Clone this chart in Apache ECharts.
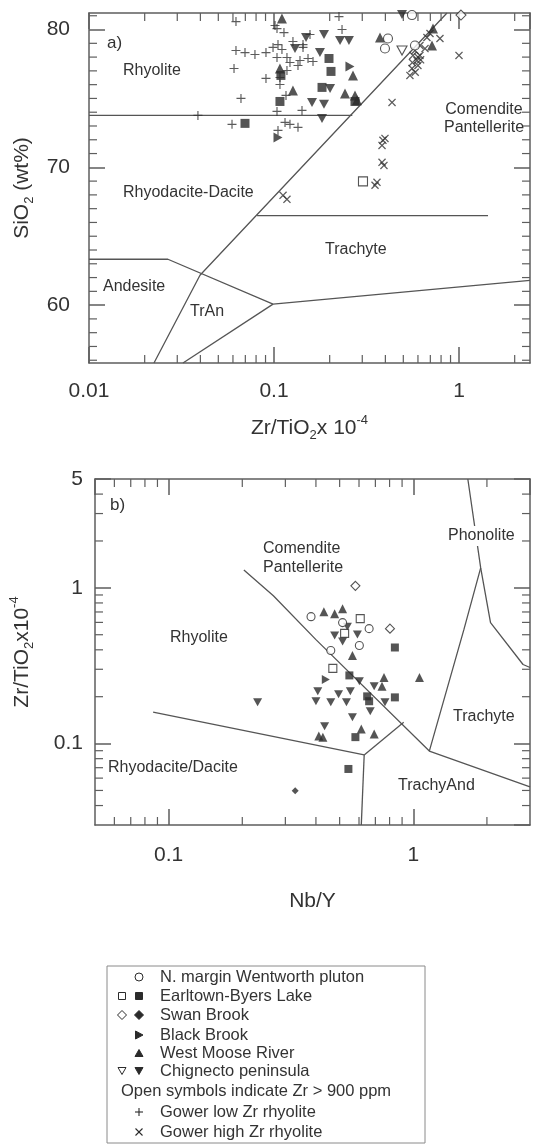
<!DOCTYPE html>
<html>
<head>
<meta charset="utf-8">
<title>Zr/TiO2 discrimination diagrams</title>
<script src="https://cdn.jsdelivr.net/npm/echarts@6/dist/echarts.min.js"></script>
<style>
  html, body { margin: 0; padding: 0; background: #fff; }
  #chart { width: 534px; height: 1147px; }
</style>
</head>
<body>
<div id="chart"></div>
<script>
// ---------- panel a) SiO2 (wt%) against Zr/TiO2 x 1e-4 ----------
const aGowerLowZr = [
  [0.0623, 80.58], [0.1013, 80.29], [0.1038, 80.07], [0.1132, 79.78], [0.1266, 79.13],
  [0.1435, 78.91], [0.2245, 80.94], [0.2332, 80.0], [0.0623, 78.48], [0.0697, 78.33],
  [0.0789, 78.19], [0.0905, 78.33], [0.0988, 78.7], [0.1051, 78.91], [0.1104, 78.55],
  [0.1038, 77.97], [0.1175, 77.97], [0.122, 77.61], [0.1348, 77.39], [0.1527, 77.9],
  [0.1625, 77.68], [0.0608, 77.17], [0.0905, 76.45], [0.1077, 76.52], [0.1077, 76.01],
  [0.1175, 77.03], [0.0663, 75.0], [0.1161, 75.22], [0.1038, 74.06], [0.1417, 74.13],
  [0.0388, 73.77], [0.0593, 73.12], [0.1147, 73.26], [0.122, 73.12], [0.1348, 72.9],
  [0.1051, 72.68], [0.1382, 77.75], [0.1435, 78.7], [0.1565, 79.64]
];
const aGowerHighZr = [
  [0.789, 79.35], [0.697, 79.71], [0.671, 79.42], [0.615, 78.84], [0.564, 78.12],
  [0.593, 77.75], [0.6, 77.39], [0.557, 77.17], [0.543, 76.67], [0.578, 78.48],
  [0.615, 78.12], [0.655, 78.62], [0.56, 77.6], [0.6, 78.0], [0.58, 76.9], [0.62, 77.8],
  [1.0, 78.12], [0.4345, 74.71], [0.398, 72.1], [0.388, 71.96], [0.3836, 71.59],
  [0.3836, 70.36], [0.393, 70.14], [0.3603, 68.91], [0.3516, 68.7], [0.1119, 67.97],
  [0.1175, 67.68]
];
const aWentworthOpen = [[0.557, 81.05], [0.4132, 79.35], [0.398, 78.62], [0.578, 78.84]];
const aEarltownOpen = [[0.3027, 68.98]];
const aSwanBrookOpen = [[1.025, 81.05]];
const aChignectoOpen = [[0.492, 78.48]];
const aEarltown = [[0.1983, 77.9], [0.2033, 76.96], [0.1818, 75.8], [0.1077, 74.78], [0.109, 76.67], [0.0697, 73.19], [0.274, 74.78]];
const aBlackBrook = [[0.2574, 77.32], [0.1051, 72.17]];
const aWestMoose = [[0.1104, 80.8], [0.1077, 77.17], [0.1266, 75.58], [0.2673, 76.67], [0.242, 75.36], [0.274, 75.22], [0.281, 74.86], [0.374, 79.42], [0.7145, 78.84], [0.7236, 80.07]];
const aChignecto = [[0.149, 79.42], [0.1863, 79.64], [0.2275, 79.2], [0.2542, 79.2], [0.1299, 78.62], [0.1772, 78.33], [0.2009, 75.72], [0.1605, 74.71], [0.1863, 74.57], [0.1818, 73.55], [0.492, 81.09]];

// field boundaries, panel a)
const aRhyoliteBase = [[0.01, 73.77], [0.265, 73.77]];
const aComPantBoundary = [[0.02245, 55.8], [0.0398, 62.17], [0.861, 81.2]];
const aTrachyteTop = [[0.081, 66.5], [1.435, 66.5]];
const aAndesiteTop = [[0.01, 63.33], [0.0267, 63.33], [0.0988, 60.07], [2.42, 61.8]];
const aTrAnBase = [[0.0322, 55.8], [0.0988, 60.07]];

// ---------- panel b) Zr/TiO2 x 1e-4 against Nb/Y ----------
const bWentworthOpen = [[0.382, 0.653], [0.514, 0.598], [0.66, 0.547], [0.602, 0.426], [0.46, 0.396]];
const bEarltownOpen = [[0.607, 0.634], [0.469, 0.304], [0.524, 0.51]];
const bSwanBrookOpen = [[0.58, 1.03], [0.803, 0.547]];
const bEarltown = [[0.841, 0.414], [0.548, 0.274], [0.648, 0.201], [0.841, 0.198], [0.66, 0.187], [0.58, 0.11], [0.543, 0.0687]];
const bSwanBrook = [[0.329, 0.0497]];
const bBlackBrook = [[0.439, 0.258]];
const bWestMoose = [[0.431, 0.703], [0.477, 0.682], [0.514, 0.734], [0.564, 0.368], [1.06, 0.266], [0.759, 0.266], [0.745, 0.233], [0.411, 0.1117], [0.427, 0.11], [0.613, 0.124], [0.692, 0.115]];
const bChignecto = [[0.538, 0.563], [0.477, 0.494], [0.591, 0.501], [0.514, 0.452], [0.602, 0.251], [0.692, 0.233], [0.407, 0.2165], [0.553, 0.2165], [0.495, 0.207], [0.4, 0.187], [0.46, 0.184], [0.533, 0.184], [0.766, 0.184], [0.667, 0.161], [0.564, 0.1477], [0.434, 0.129], [0.231, 0.184]];

// field boundaries, panel b)
const bComPantBoundary = [[0.203, 1.303], [0.268, 0.889], [0.4, 0.465], [1.163, 0.0895], [3.0, 0.0527]];
const bRhyodaciteTop = [[0.0864, 0.159], [0.63, 0.0845]];
const bTrachyAndTop = [[0.63, 0.0845], [0.914, 0.137]];
const bTrachyAndLeft = [[0.63, 0.0845], [0.613, 0.03]];
const bTrachyteLeft = [[1.163, 0.0895], [1.61, 0.539], [1.886, 1.342]];
const bPhonoliteLine = [[1.671, 5], [1.886, 1.342], [2.069, 0.5975], [2.81, 0.322], [3.0, 0.308]];

// ---------- axes ----------
const aXRange = [0.01, 2.42];
const aYRange = [55.8, 81.2];
const aYMajor = [60, 70, 80];
const aXMinor = [0.02, 0.03, 0.04, 0.05, 0.06, 0.07, 0.08, 0.09, 0.2, 0.3, 0.4, 0.5, 0.6, 0.7, 0.8, 0.9, 2];
const aYMinor = [56, 57, 58, 59, 61, 62, 63, 64, 65, 66, 67, 68, 69, 71, 72, 73, 74, 75, 76, 77, 78, 79, 81];
const bXRange = [0.05, 3];
const bYRange = [0.03, 5];
const bXMinor = [0.06, 0.07, 0.08, 0.09, 0.2, 0.3, 0.4, 0.5, 0.6, 0.7, 0.8, 0.9, 2];
const bYMinor = [0.04, 0.05, 0.06, 0.07, 0.08, 0.09, 0.2, 0.3, 0.4, 0.5, 0.6, 0.7, 0.8, 0.9, 2, 3, 4];

// ---------- text ----------
const panelALabels = ['a)', 'Rhyolite', 'Comendite', 'Pantellerite', 'Rhyodacite-Dacite', 'Trachyte', 'Andesite', 'TrAn'];
const panelBLabels = ['b)', 'Comendite', 'Pantellerite', 'Phonolite', 'Rhyolite', 'Trachyte', 'Rhyodacite/Dacite', 'TrachyAnd'];
const legendLabels = ['N. margin Wentworth pluton', 'Earltown-Byers Lake', 'Swan Brook', 'Black Brook', 'West Moose River', 'Chignecto peninsula', 'Open symbols indicate Zr > 900 ppm', 'Gower low Zr rhyolite', 'Gower high Zr rhyolite'];

// ---------- layout & style ----------
const FONT = '"Liberation Sans", Arial, Helvetica, sans-serif';
const INK = '#333333';
const FRAME = '#5e5e5e';
const FIELD = '#555555';
const MARK = '#2b2b2b';
const TICK_MAJOR = 16;
const TICK_MINOR = 8;

const panelALayout = [
  { x: 107, y: 43, size: 17 }, { x: 123, y: 71 }, { x: 484, y: 110, align: 'center' }, { x: 484, y: 128, align: 'center' },
  { x: 123, y: 193 }, { x: 325, y: 250 }, { x: 103, y: 287 }, { x: 190, y: 312 }
];
const panelBLayout = [
  { x: 110, y: 505, size: 17 }, { x: 263, y: 549 }, { x: 263, y: 568 }, { x: 447, y: 536, bg: true },
  { x: 170, y: 638 }, { x: 453, y: 717 }, { x: 108, y: 768 }, { x: 398, y: 786 }
];
const legendBox = { x: 107, y: 966, w: 318, h: 177 };
const legendRowY = [977, 996, 1015, 1035, 1053, 1071, 1091, 1112, 1132];
const legendTextX = 160;
const legendOpenX = 122;
const legendFilledX = 139;
const legendMarks = [
  [['circle', true, legendFilledX]],
  [['square', true, legendOpenX], ['square', false, legendFilledX]],
  [['diamond', true, legendOpenX], ['diamond', false, legendFilledX]],
  [['right', false, legendFilledX]],
  [['up', false, legendFilledX]],
  [['down', true, legendOpenX], ['down', false, legendFilledX]],
  [],
  [['plus', false, legendFilledX]],
  [['cross', false, legendFilledX]]
];

const SYM = {
  plus: 'path://M4.35,0H5.65V4.35H10V5.65H5.65V10H4.35V5.65H0V4.35H4.35Z',
  down: 'path://M0,0L10,0L5,9Z',
  right: 'path://M0,0L9,5L0,10Z'
};

const fmt = v => String(parseFloat(Number(v).toPrecision(4)));
const lineStyle = { color: FRAME, width: 1.5 };
const titleRich = {
  n: { fontSize: 21, fontFamily: FONT, color: INK },
  s: { fontSize: 13, fontFamily: FONT, color: INK, padding: [14, 0, 0, 0] },
  p: { fontSize: 13, fontFamily: FONT, color: INK, padding: [0, 0, 16, 0] }
};

function xAxisDef(grid, range, position, opts) {
  const labels = position === 'bottom';
  return Object.assign({
    type: 'log', logBase: 10, gridIndex: grid, min: range[0], max: range[1], position,
    axisLine: { show: true, onZero: false, lineStyle },
    axisTick: { show: true, inside: true, length: TICK_MAJOR, lineStyle },
    minorTick: { show: false }, splitLine: { show: false },
    axisLabel: { show: labels, fontSize: 21, fontFamily: FONT, color: INK, formatter: fmt },
    nameLocation: 'middle', nameTextStyle: { rich: titleRich, fontSize: 21, fontFamily: FONT, color: INK }
  }, opts || {});
}

function minorX(xi, yi, values, yRange) {
  return {
    type: 'custom', xAxisIndex: xi, yAxisIndex: yi, silent: true, z: 4,
    data: values.map(v => [v, yRange[0]]),
    renderItem(params, api) {
      const b = api.coord([api.value(0), yRange[0]]);
      const t = api.coord([api.value(0), yRange[1]]);
      const st = { stroke: FRAME, lineWidth: 1.2 };
      return { type: 'group', children: [
        { type: 'line', shape: { x1: b[0], y1: b[1], x2: b[0], y2: b[1] - TICK_MINOR }, style: st },
        { type: 'line', shape: { x1: t[0], y1: t[1], x2: t[0], y2: t[1] + TICK_MINOR }, style: st }
      ] };
    }
  };
}
function minorY(xi, yi, values, xRange) {
  return {
    type: 'custom', xAxisIndex: xi, yAxisIndex: yi, silent: true, z: 4,
    data: values.map(v => [xRange[0], v]),
    renderItem(params, api) {
      const l = api.coord([xRange[0], api.value(1)]);
      const r = api.coord([xRange[1], api.value(1)]);
      const st = { stroke: FRAME, lineWidth: 1.2 };
      return { type: 'group', children: [
        { type: 'line', shape: { x1: l[0], y1: l[1], x2: l[0] + TICK_MINOR, y2: l[1] }, style: st },
        { type: 'line', shape: { x1: r[0], y1: r[1], x2: r[0] - TICK_MINOR, y2: r[1] }, style: st }
      ] };
    }
  };
}
function field(data, xi, yi) {
  return { type: 'line', data, xAxisIndex: xi, yAxisIndex: yi, symbol: 'none', silent: true, z: 2,
    lineStyle: { color: FIELD, width: 1.3 } };
}
function pts(data, xi, yi, symbol, size, open, extra) {
  return Object.assign({
    type: 'scatter', data, xAxisIndex: xi, yAxisIndex: yi, symbol, symbolSize: size, silent: true, z: 10,
    itemStyle: open ? { color: '#fff', borderColor: MARK, borderWidth: 1.1 } : { color: MARK }
  }, extra || {});
}

function fieldText(text, pos) {
  return {
    type: 'text', x: pos.x, y: pos.y, z: 100,
    style: {
      text, fontSize: pos.size || 16, fontFamily: FONT, fill: INK,
      textAlign: pos.align || 'left', textVerticalAlign: 'middle',
      align: pos.align || 'left', verticalAlign: 'middle',
      backgroundColor: pos.bg ? '#fff' : undefined, padding: pos.bg ? [2, 1] : 0
    }
  };
}

// legend glyphs; each element carries its own z so it sits above the legend frame
function legendMark(kind, open, cx, cy) {
  const style = { fill: open ? '#fff' : MARK, stroke: MARK, lineWidth: 1 };
  const st = { stroke: MARK, lineWidth: 1.1 };
  const Z = 100;
  switch (kind) {
    case 'circle': return [{ type: 'circle', z: Z, shape: { cx, cy, r: 4 }, style }];
    case 'square': return [{ type: 'rect', z: Z, shape: { x: cx - 3.5, y: cy - 3.5, width: 7, height: 7 }, style }];
    case 'diamond': return [{ type: 'polygon', z: Z, shape: { points: [[cx, cy - 4.5], [cx + 4.5, cy], [cx, cy + 4.5], [cx - 4.5, cy]] }, style }];
    case 'up': return [{ type: 'polygon', z: Z, shape: { points: [[cx - 4, cy + 3.5], [cx + 4, cy + 3.5], [cx, cy - 3.5]] }, style }];
    case 'down': return [{ type: 'polygon', z: Z, shape: { points: [[cx - 4, cy - 3.5], [cx + 4, cy - 3.5], [cx, cy + 3.5]] }, style }];
    case 'right': return [{ type: 'polygon', z: Z, shape: { points: [[cx - 3.5, cy - 4], [cx + 4, cy], [cx - 3.5, cy + 4]] }, style }];
    case 'plus': return [
      { type: 'line', z: Z, shape: { x1: cx - 4, y1: cy, x2: cx + 4, y2: cy }, style: st },
      { type: 'line', z: Z, shape: { x1: cx, y1: cy - 4, x2: cx, y2: cy + 4 }, style: st }];
    default: return [
      { type: 'line', z: Z, shape: { x1: cx - 3.5, y1: cy - 3.5, x2: cx + 3.5, y2: cy + 3.5 }, style: st },
      { type: 'line', z: Z, shape: { x1: cx - 3.5, y1: cy + 3.5, x2: cx + 3.5, y2: cy - 3.5 }, style: st }];
  }
}

const graphics = [];
panelALabels.forEach((t, i) => graphics.push(fieldText(t, panelALayout[i])));
panelBLabels.forEach((t, i) => graphics.push(fieldText(t, panelBLayout[i])));
graphics.push({ type: 'rect', z: 90, shape: { x: legendBox.x, y: legendBox.y, width: legendBox.w, height: legendBox.h },
  style: { fill: '#fff', stroke: '#8a8a8a', lineWidth: 1 } });
legendLabels.forEach((t, i) => {
  const marks = legendMarks[i];
  graphics.push({ type: 'text', z: 100, x: marks.length ? legendTextX : legendOpenX - 1, y: legendRowY[i],
    style: { text: t, fontSize: 16.5, fontFamily: FONT, fill: INK, textVerticalAlign: 'middle', verticalAlign: 'middle' } });
  marks.forEach(m => legendMark(m[0], m[1], m[2], legendRowY[i]).forEach(el => graphics.push(el)));
});

const chart = echarts.init(document.getElementById('chart'), null, { renderer: 'canvas' });
chart.setOption({
  animation: false,
  backgroundColor: '#fff',
  grid: [
    { left: 89, top: 13, width: 441, height: 350 },
    { left: 89, top: 479, width: 441, height: 346 }
  ],
  xAxis: [
    xAxisDef(0, aXRange, 'bottom', {
      axisLabel: { show: true, margin: 18, fontSize: 21, fontFamily: FONT, color: INK, formatter: fmt, showMinLabel: true, showMaxLabel: false },
      name: '{n|Zr/TiO}{s|2}{n|x 10}{p|-4}', nameGap: 51
    }),
    xAxisDef(0, aXRange, 'top'),
    xAxisDef(1, bXRange, 'bottom', {
      axisLabel: { show: true, margin: 20, fontSize: 21, fontFamily: FONT, color: INK, formatter: fmt, showMinLabel: false, showMaxLabel: false },
      name: '{n|Nb/Y}', nameGap: 66
    }),
    xAxisDef(1, bXRange, 'top')
  ],
  yAxis: [
    {
      type: 'value', gridIndex: 0, min: aYRange[0], max: aYRange[1], position: 'left',
      axisLine: { show: true, onZero: false, lineStyle },
      axisTick: { show: true, inside: true, length: TICK_MAJOR, lineStyle, customValues: aYMajor },
      axisLabel: { show: true, margin: 19, fontSize: 21, fontFamily: FONT, color: INK, customValues: aYMajor },
      splitLine: { show: false },
      name: '{n|SiO}{s|2}{n| (wt%)}', nameLocation: 'middle', nameGap: 52,
      nameTextStyle: { rich: titleRich, fontSize: 21, fontFamily: FONT, color: INK }
    },
    {
      type: 'value', gridIndex: 0, min: aYRange[0], max: aYRange[1], position: 'right',
      axisLine: { show: true, onZero: false, lineStyle },
      axisTick: { show: true, inside: true, length: TICK_MAJOR, lineStyle, customValues: aYMajor },
      axisLabel: { show: false }, splitLine: { show: false }
    },
    {
      type: 'log', logBase: 10, gridIndex: 1, min: bYRange[0], max: bYRange[1], position: 'left',
      axisLine: { show: true, onZero: false, lineStyle },
      axisTick: { show: true, inside: true, length: TICK_MAJOR, lineStyle },
      minorTick: { show: false },
      axisLabel: { show: true, margin: 12, fontSize: 21, fontFamily: FONT, color: INK, formatter: fmt, showMinLabel: false, showMaxLabel: true },
      splitLine: { show: false },
      name: '{n|Zr/TiO}{s|2}{n|x10}{p|-4}', nameLocation: 'middle', nameGap: 58,
      nameTextStyle: { rich: titleRich, fontSize: 21, fontFamily: FONT, color: INK }
    },
    {
      type: 'log', logBase: 10, gridIndex: 1, min: bYRange[0], max: bYRange[1], position: 'right',
      axisLine: { show: true, onZero: false, lineStyle },
      axisTick: { show: true, inside: true, length: TICK_MAJOR, lineStyle },
      minorTick: { show: false },
      axisLabel: { show: false }, splitLine: { show: false }
    }
  ],
  series: [
    // panel a)
    minorX(0, 0, aXMinor, aYRange),
    minorY(0, 0, aYMinor, aXRange),
    field(aRhyoliteBase, 0, 0),
    field(aComPantBoundary, 0, 0),
    field(aTrachyteTop, 0, 0),
    field(aAndesiteTop, 0, 0),
    field(aTrAnBase, 0, 0),
    pts(aGowerLowZr, 0, 0, SYM.plus, 9, false, { itemStyle: { color: '#333' } }),
    pts(aGowerHighZr, 0, 0, SYM.plus, 10, false, { symbolRotate: 45, itemStyle: { color: '#333' } }),
    pts(aEarltown, 0, 0, 'rect', 9, false),
    pts(aWestMoose, 0, 0, 'triangle', 10, false),
    pts(aChignecto, 0, 0, SYM.down, [10, 9], false),
    pts(aBlackBrook, 0, 0, SYM.right, [9, 10], false),
    pts(aWentworthOpen, 0, 0, 'circle', 9, true),
    pts(aEarltownOpen, 0, 0, 'rect', 9, true),
    pts(aSwanBrookOpen, 0, 0, 'diamond', 10, true),
    pts(aChignectoOpen, 0, 0, SYM.down, [10, 9], true),
    // panel b)
    minorX(2, 2, bXMinor, bYRange),
    minorY(2, 2, bYMinor, bXRange),
    field(bComPantBoundary, 2, 2),
    field(bRhyodaciteTop, 2, 2),
    field(bTrachyAndTop, 2, 2),
    field(bTrachyAndLeft, 2, 2),
    field(bTrachyteLeft, 2, 2),
    field(bPhonoliteLine, 2, 2),
    pts(bEarltown, 2, 2, 'rect', 8, false),
    pts(bSwanBrook, 2, 2, 'diamond', 7, false),
    pts(bBlackBrook, 2, 2, SYM.right, [8, 9], false),
    pts(bWestMoose, 2, 2, 'triangle', 9, false),
    pts(bChignecto, 2, 2, SYM.down, [9, 8], false),
    pts(bWentworthOpen, 2, 2, 'circle', 8, true),
    pts(bEarltownOpen, 2, 2, 'rect', 8, true),
    pts(bSwanBrookOpen, 2, 2, 'diamond', 9, true)
  ],
  graphic: graphics
});
</script>
</body>
</html>
